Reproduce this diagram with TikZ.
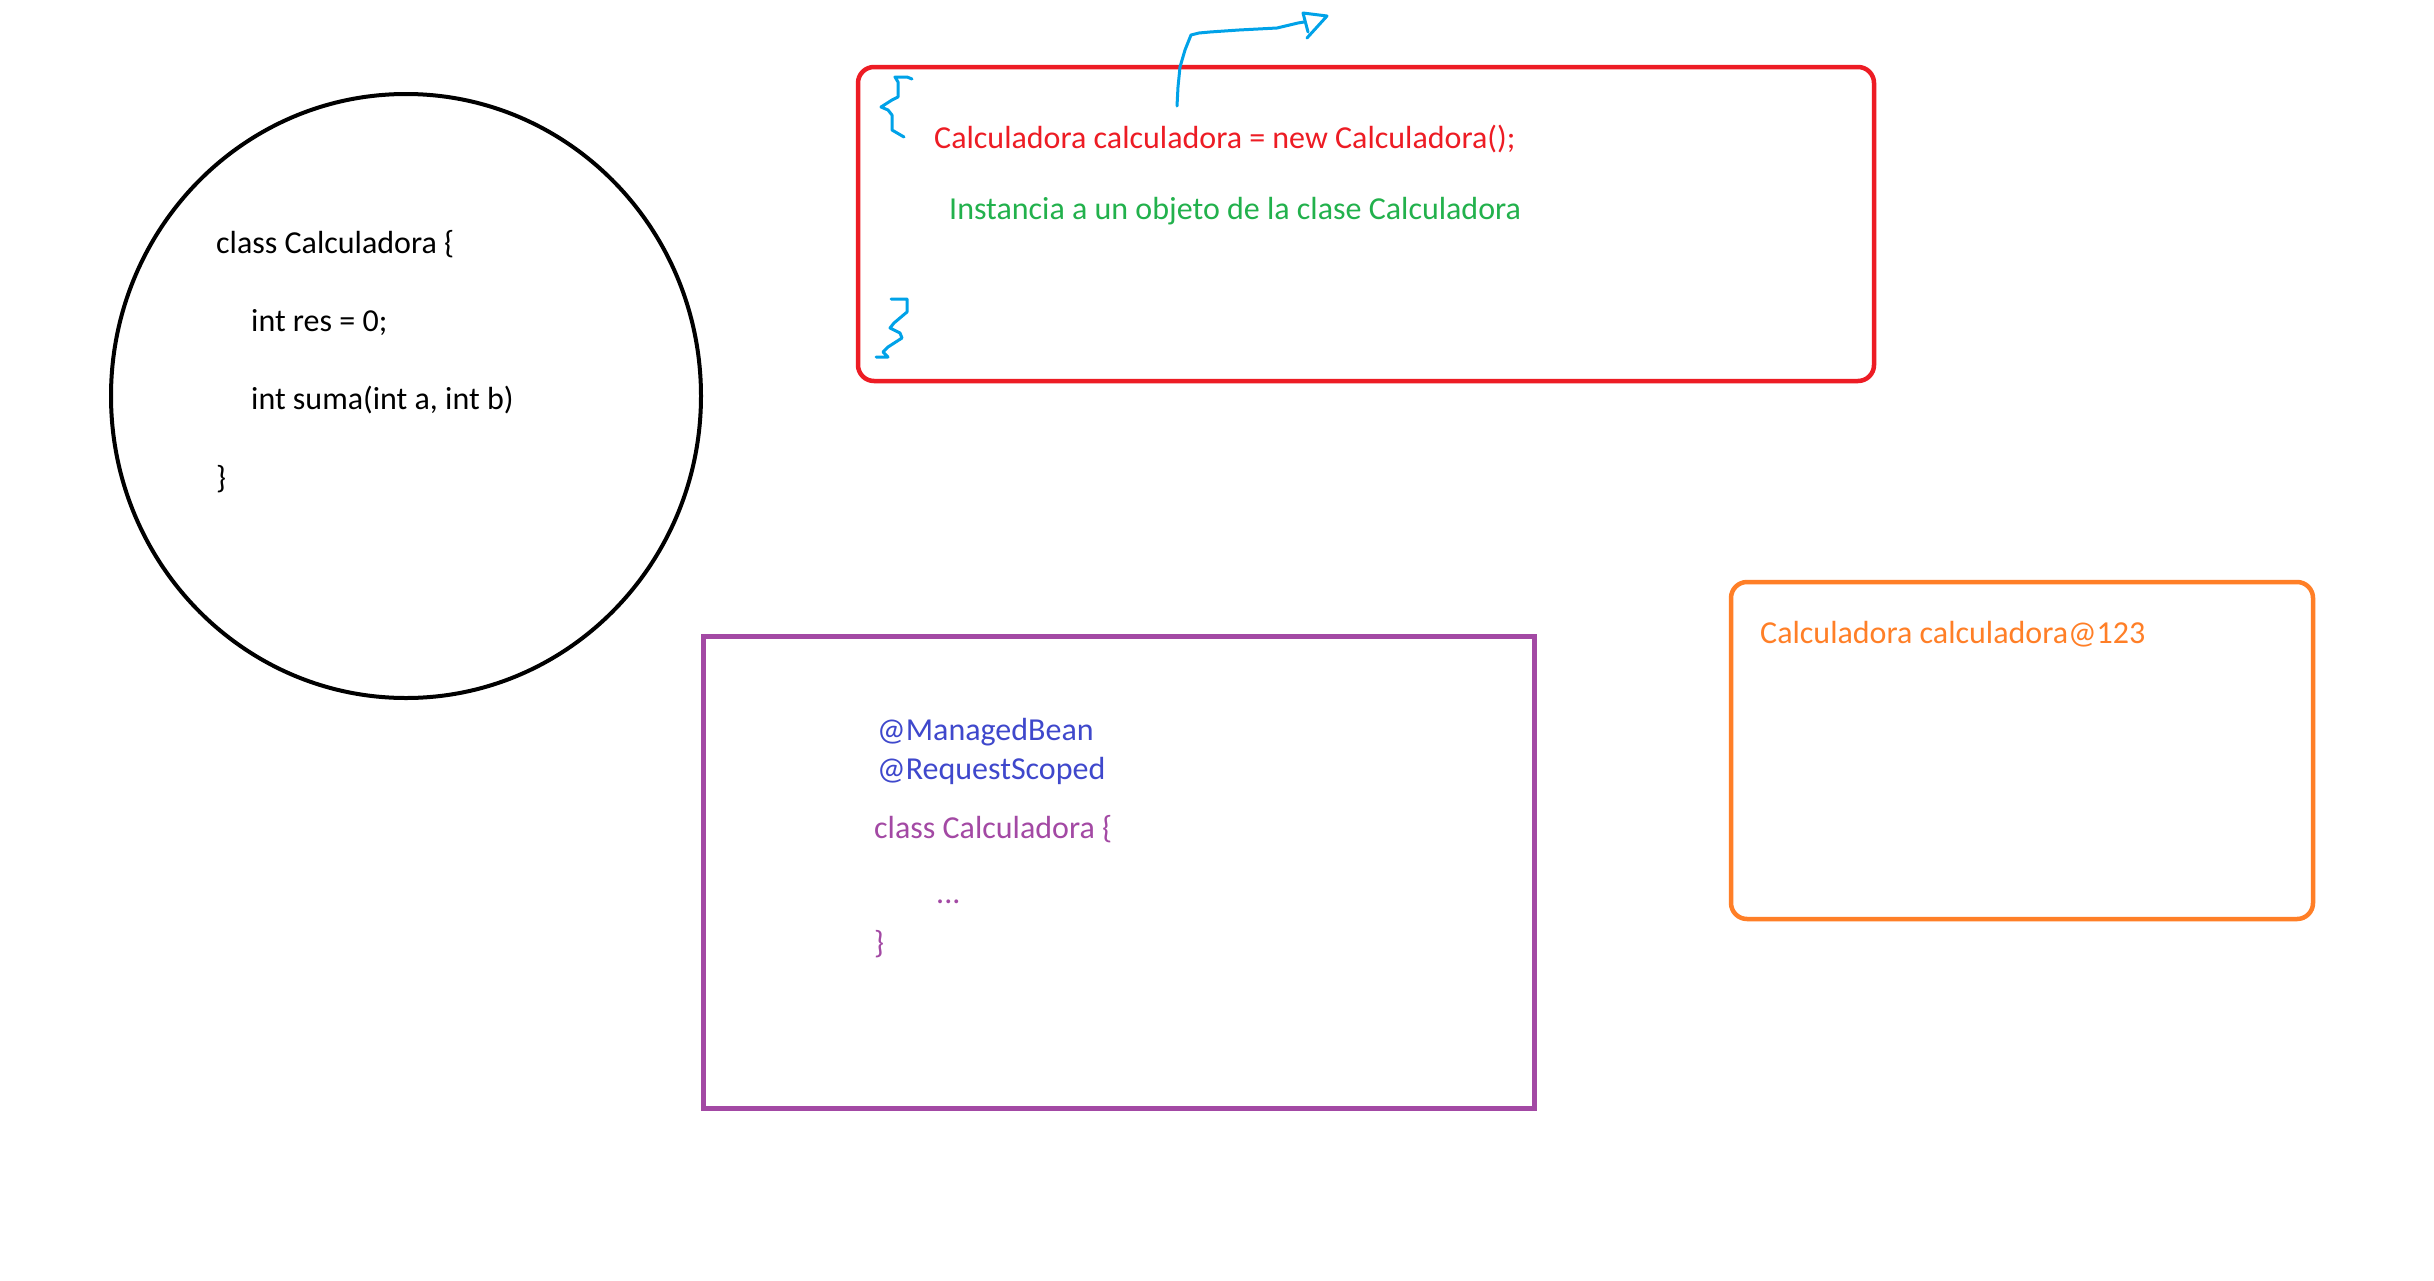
\documentclass[tikz,border=0pt]{standalone}
\usepackage{fontspec}
\setmainfont{Carlito}
\usetikzlibrary{shapes.geometric}
\definecolor{pred}{HTML}{ED1C24}
\definecolor{pgreen}{HTML}{22B14C}
\definecolor{pblue}{HTML}{00A2E8}
\definecolor{porange}{HTML}{FF7F27}
\definecolor{ppurple}{HTML}{A349A4}
\definecolor{pindigo}{HTML}{3F48CC}
\begin{document}
\begin{tikzpicture}[x=1pt,y=-1pt,
  txt/.style={anchor=base west, inner sep=0pt, font=\fontsize{32}{38}\selectfont},
  ink/.style={draw=pblue, line width=3pt, line cap=round, line join=round},
  boxframe/.style={anchor=north west, inner sep=0pt, outer sep=0pt}]
\useasboundingbox (0,0) rectangle (2434,1280);
\fill[white] (0,0) rectangle (2434,1280);

% circle with class
\node (clase) [ellipse, draw=black, line width=4pt, inner sep=0pt,
  minimum width=590pt, minimum height=604pt] at (406,396) {};
\node (c1) [txt] at (216,253) {class Calculadora \{};
\node (c2) [txt] at (251,331) {int res = 0;};
\node (c3) [txt] at (251,409) {int suma(int a, int b)};
\node (c4) [txt] at (216,488) {\}};

% red box
\node (redbox) [boxframe, draw=pred, line width=4.5pt, rounded corners=16pt,
  minimum width=1016pt, minimum height=314pt] at (858,67) {};
\node (r1) [txt, text=pred] at (934,148) {Calculadora calculadora = new Calculadora();};
\node (r2) [txt, text=pgreen] at (949,219) {Instancia a un objeto de la clase Calculadora};

% blue braces
\draw[ink] (912,79) -- (907,77) -- (895,77) -- (898,82) -- (898,97) -- (892,100)
  -- (881,107) -- (888,110) -- (892,115) -- (892,130) -- (904,137);
\draw[ink] (891,299) -- (907,299) -- (907,312) -- (894,323) -- (890,328) -- (900,333)
  -- (902,338) -- (888,347) -- (883,352) -- (888,357) -- (876,357);

% blue arrow
\coordinate (aS) at (1177,106);
\coordinate (aE) at (1304,22);
\draw[ink] (aS) -- (1178,87) -- (1180,67) -- (1185,50) -- (1191,35) -- (1199,33)
  -- (1210,32) -- (1239,30) -- (1277,28) -- (1298,23) -- (aE);
\draw[ink] (1308,32) -- (1303,13) -- (1327,16) -- (1307,38);

% purple box
\node (purbox) [boxframe, draw=ppurple, line width=5pt,
  minimum width=831pt, minimum height=472pt] at (703,636) {};
\node (p1) [txt, text=pindigo] at (877,740) {@ManagedBean};
\node (p2) [txt, text=pindigo] at (877,779) {@RequestScoped};
\node (p3) [txt, text=ppurple] at (874,838) {class Calculadora \{};
\node (p4) [txt, text=ppurple] at (936,903) {...};
\node (p5) [txt, text=ppurple] at (874,953) {\}};

% orange box
\node (orbox) [boxframe, draw=porange, line width=4.5pt, rounded corners=16pt,
  minimum width=582pt, minimum height=337pt] at (1731,582) {};
\node (o1) [txt, text=porange] at (1760,643) {Calculadora calculadora@123};
\end{tikzpicture}
\end{document}
